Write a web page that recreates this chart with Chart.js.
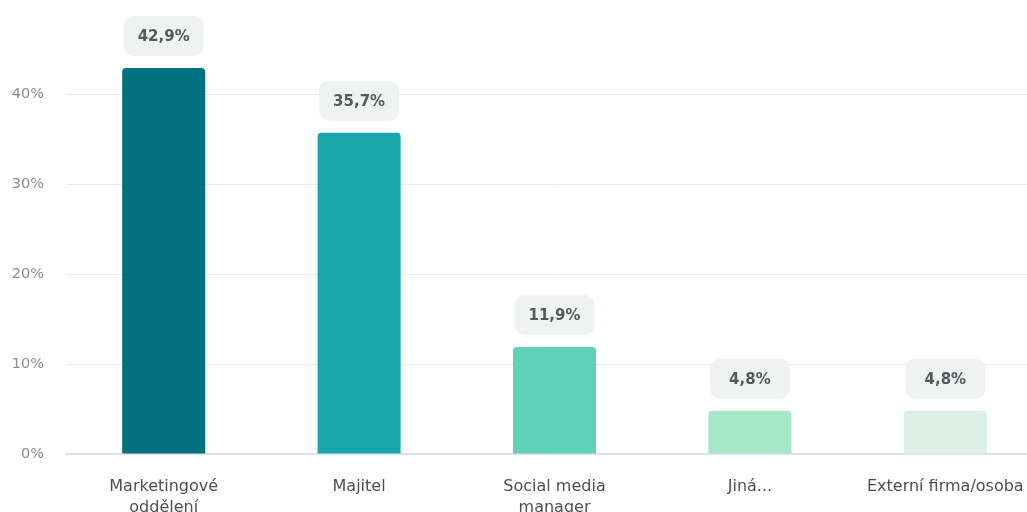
<!DOCTYPE html>
<html>
<head>
<meta charset="utf-8">
<script src="https://cdn.jsdelivr.net/npm/chart.js@4/dist/chart.umd.min.js"></script>
<style>
  html, body { margin: 0; padding: 0; background: #fff; overflow: hidden; }
  #wrap { width: 1045px; height: 530px; position: relative; }
</style>
</head>
<body>
<div id="wrap"><canvas id="roles"></canvas></div>
<script>
'use strict';

// Kategorien und Anteile (%)
const categories = [
  ['Marketingové', 'oddělení'],
  'Majitel',
  ['Social media', 'manager'],
  'Jiná...',
  'Externí firma/osoba',
];
const shares = [42.9, 35.7, 11.9, 4.8, 4.8];
const barColors = ['#03707f', '#17a6ab', '#5fd1b8', '#a5e8c8', '#daf0e7'];
const yTicks = [0, 10, 20, 30, 40];

const fontFamily = '"DejaVu Sans", "Open Sans", sans-serif';
const fmt = v => v.toFixed(1).replace('.', ',') + '%';

// Wert-Badges oberhalb der Balken
const badgePlugin = {
  id: 'badges',
  afterDatasetsDraw(chart) {
    const { ctx } = chart;
    const meta = chart.getDatasetMeta(0);
    ctx.save();
    ctx.font = `bold 15px ${fontFamily}`;
    ctx.textAlign = 'center';
    ctx.textBaseline = 'middle';
    meta.data.forEach((bar, i) => {
      const w = 80, h = 40;
      const x = bar.x - w / 2;
      const y = bar.y - 12 - h;
      ctx.fillStyle = '#f0f1f1';
      ctx.beginPath();
      ctx.roundRect(x, y, w, h, 10);
      ctx.fill();
      ctx.fillStyle = '#55585c';
      ctx.fillText(fmt(shares[i]), bar.x, y + h / 2 + 1);
    });
    ctx.restore();
  },
};

const ctx = document.getElementById('roles').getContext('2d');
new Chart(ctx, {
  type: 'bar',
  data: {
    labels: categories,
    datasets: [
      {
        data: shares,
        backgroundColor: barColors,
        borderRadius: 4,
        borderSkipped: 'bottom',
        categoryPercentage: 1,
        barPercentage: 0.425,
      },
    ],
  },
  options: {
    responsive: true,
    maintainAspectRatio: false,
    animation: false,
    layout: { padding: { top: 40, right: 2, left: 0, bottom: 0 } },
    plugins: {
      legend: { display: false },
      tooltip: { enabled: false },
    },
    scales: {
      x: {
        grid: { display: false },
        border: { color: '#d8def0', width: 1.5 },
        ticks: {
          color: '#4c4f52',
          font: { family: fontFamily, size: 16, lineHeight: 1.28 },
          padding: 15,
          maxRotation: 0,
          autoSkip: false,
        },
        afterFit: scale => { scale.height = 76; },
      },
      y: {
        min: 0,
        max: 46,
        afterBuildTicks: scale => {
          scale.ticks = yTicks.map(v => ({ value: v }));
        },
        grid: { color: '#e9eaec', drawTicks: false },
        border: { display: false },
        ticks: {
          color: '#8a8d90',
          font: { family: fontFamily, size: 14.5 },
          padding: 22,
          callback: v => `${v}%`,
        },
        afterFit: scale => { scale.width = 66; },
      },
    },
  },
  plugins: [badgePlugin],
});
</script>
</body>
</html>
